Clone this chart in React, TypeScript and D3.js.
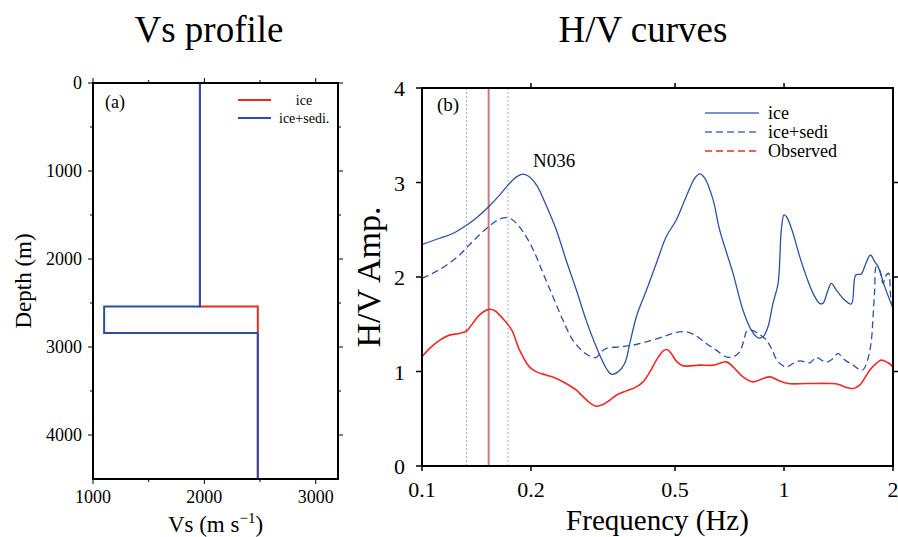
import React from "react";
import * as d3 from "d3";

// panel (a) Vs profile
const vsTicks = [1000, 2000, 3000];
const vsMinor = [1500, 2500];
const depthTicks = [0, 1000, 2000, 3000, 4000];
const depthMinor = [500, 1500, 2500, 3500];
const iceLayerTop = [0, 2540];
const iceLayerVs = [1960, 2480];
const sediLayerTop = [0, 2540, 2840];
const sediLayerVs = [1960, 1100, 2480];
const maxDepth = 4500;

// panel (b) H/V curves
const freqTicks = [0.1, 0.2, 0.5, 1, 2];
const ampTicks = [0, 1, 2, 3, 4];
const markerFreqs = [0.1327, 0.1728];
const peakFreq = 0.1528;

const iceFreq = [0.1, 0.112, 0.122, 0.133, 0.141, 0.153, 0.164, 0.173, 0.182, 0.19, 0.196, 0.207, 0.221, 0.235, 0.25, 0.267, 0.284, 0.303, 0.323, 0.333, 0.348, 0.363, 0.375, 0.391, 0.417, 0.444, 0.473, 0.504, 0.537, 0.567, 0.585, 0.604, 0.637, 0.664, 0.723, 0.77, 0.812, 0.848, 0.875, 0.903, 0.932, 0.963, 0.983, 1.0, 1.015, 1.048, 1.105, 1.153, 1.203, 1.254, 1.281, 1.323, 1.351, 1.395, 1.471, 1.535, 1.578, 1.635, 1.67, 1.732, 1.78, 1.819, 1.897, 2.0];
const iceAmp = [2.346, 2.41, 2.463, 2.551, 2.622, 2.746, 2.869, 2.975, 3.057, 3.088, 3.071, 2.975, 2.746, 2.498, 2.18, 1.862, 1.544, 1.261, 1.032, 0.972, 0.996, 1.085, 1.297, 1.58, 1.862, 2.145, 2.428, 2.604, 2.852, 3.046, 3.092, 3.046, 2.816, 2.498, 2.039, 1.65, 1.438, 1.357, 1.367, 1.473, 1.721, 1.933, 2.498, 2.657, 2.64, 2.516, 2.216, 2.004, 1.827, 1.721, 1.721, 1.862, 1.933, 1.862, 1.756, 1.714, 2.021, 2.032, 2.11, 2.233, 2.163, 2.11, 1.898, 1.668];

const sediFreq = [0.1, 0.107, 0.117, 0.127, 0.135, 0.144, 0.153, 0.162, 0.171, 0.178, 0.19, 0.203, 0.216, 0.23, 0.245, 0.261, 0.279, 0.294, 0.303, 0.313, 0.323, 0.352, 0.383, 0.417, 0.463, 0.494, 0.515, 0.537, 0.567, 0.61, 0.65, 0.693, 0.723, 0.754, 0.779, 0.787, 0.812, 0.848, 0.894, 0.923, 0.963, 1.015, 1.059, 1.105, 1.177, 1.228, 1.295, 1.323, 1.366, 1.41, 1.455, 1.551, 1.646, 1.706, 1.743, 1.762, 1.78, 1.799, 1.838, 1.877, 1.917, 1.946, 1.971, 2.0];
const sediAmp = [1.986, 2.039, 2.127, 2.233, 2.339, 2.445, 2.534, 2.604, 2.629, 2.604, 2.481, 2.286, 2.039, 1.792, 1.544, 1.332, 1.208, 1.155, 1.148, 1.208, 1.244, 1.261, 1.279, 1.314, 1.367, 1.403, 1.42, 1.42, 1.385, 1.297, 1.226, 1.155, 1.155, 1.208, 1.367, 1.42, 1.438, 1.403, 1.332, 1.244, 1.102, 1.049, 1.085, 1.113, 1.092, 1.148, 1.102, 1.102, 1.138, 1.191, 1.138, 1.067, 1.014, 1.138, 1.332, 1.58, 1.862, 2.11, 2.074, 1.933, 2.021, 2.039, 1.792, 1.686];

const obsFreq = [0.1, 0.105, 0.112, 0.119, 0.127, 0.133, 0.138, 0.144, 0.153, 0.159, 0.167, 0.177, 0.186, 0.198, 0.207, 0.221, 0.235, 0.25, 0.267, 0.279, 0.291, 0.303, 0.316, 0.33, 0.344, 0.367, 0.391, 0.408, 0.426, 0.444, 0.463, 0.475, 0.488, 0.504, 0.521, 0.537, 0.585, 0.637, 0.693, 0.723, 0.77, 0.821, 0.866, 0.913, 0.963, 1.026, 1.153, 1.337, 1.41, 1.471, 1.551, 1.618, 1.725, 1.799, 1.857, 1.938, 2.0];
const obsAmp = [1.155, 1.244, 1.332, 1.385, 1.403, 1.431, 1.509, 1.597, 1.657, 1.643, 1.562, 1.438, 1.226, 1.049, 0.996, 0.961, 0.926, 0.873, 0.802, 0.731, 0.668, 0.633, 0.65, 0.696, 0.749, 0.795, 0.837, 0.89, 0.996, 1.12, 1.216, 1.233, 1.191, 1.11, 1.067, 1.057, 1.067, 1.067, 1.102, 1.049, 0.943, 0.89, 0.919, 0.943, 0.908, 0.873, 0.873, 0.873, 0.866, 0.837, 0.82, 0.855, 1.014, 1.085, 1.12, 1.092, 1.049];

const FONT = "'Liberation Serif', 'Times New Roman', serif";
const BLUE = "#2b52a3";
const RED = "#ee2a22";

const stepPoints = (tops: number[], vs: number[]) => {
    const pts: [number, number][] = [];
    tops.forEach((t, i) => {
        const bot = i + 1 < tops.length ? tops[i + 1] : maxDepth;
        pts.push([vs[i], t], [vs[i], bot]);
    });
    return pts;
};

const ProfilePanel = () => {
    const x = d3.scaleLinear().domain([1000, 3200]).range([93, 338]);
    const y = d3.scaleLinear().domain([0, maxDepth]).range([83, 479]);
    const line = d3.line<[number, number]>().x(d => x(d[0])).y(d => y(d[1]));
    const [x0, x1] = x.range();
    const [y0, y1] = y.range();

    return (
        <g fontFamily={FONT}>
            <path d={line(stepPoints(iceLayerTop, iceLayerVs)) || ""} fill="none" stroke={RED} strokeWidth={2} />
            <path d={line(stepPoints(sediLayerTop, sediLayerVs)) || ""} fill="none" stroke="#2a4ea8" strokeWidth={2} />
            <rect x={x0} y={y0} width={x1 - x0} height={y1 - y0} fill="none" stroke="#000" strokeWidth={2} />
            {vsTicks.concat(vsMinor).map(v => {
                const len = vsTicks.includes(v) ? 5 : 3;
                return (
                    <g key={"vx" + v}>
                        <line x1={x(v)} x2={x(v)} y1={y1} y2={y1 + len} stroke="#000" />
                        <line x1={x(v)} x2={x(v)} y1={y0} y2={y0 - len} stroke="#000" />
                    </g>
                );
            })}
            {depthTicks.concat(depthMinor).map(d => {
                const len = depthTicks.includes(d) ? 5 : 3;
                return (
                    <g key={"dy" + d}>
                        <line x1={x0} x2={x0 - len} y1={y(d)} y2={y(d)} stroke="#000" />
                        <line x1={x1} x2={x1 + len} y1={y(d)} y2={y(d)} stroke="#000" />
                    </g>
                );
            })}
            {vsTicks.map(v => (
                <text key={"vl" + v} x={x(v)} y={503} fontSize={18} textAnchor="middle">{v}</text>
            ))}
            {depthTicks.map(d => (
                <text key={"dl" + d} x={82} y={y(d) + 6} fontSize={18} textAnchor="end">{d}</text>
            ))}
            <text x={105} y={108} fontSize={18}>(a)</text>
            <line x1={238} x2={271} y1={100} y2={100} stroke={RED} strokeWidth={2} />
            <text x={304} y={105} fontSize={14} textAnchor="middle">ice</text>
            <line x1={238} x2={271} y1={118} y2={118} stroke="#2a4ea8" strokeWidth={2} />
            <text x={279} y={123} fontSize={14}>ice+sedi.</text>
            <text transform={`translate(31 ${(y0 + y1) / 2}) rotate(-90)`} fontSize={23} textAnchor="middle">Depth (m)</text>
            <text x={(x0 + x1) / 2} y={532} fontSize={23} textAnchor="middle">
                Vs (m s<tspan fontSize={15} dy={-9}>−1</tspan><tspan dy={9}>)</tspan>
            </text>
            <text x={209} y={42} fontSize={37} textAnchor="middle">Vs profile</text>
        </g>
    );
};

const HVPanel = () => {
    const x = d3.scaleLog().domain([0.1, 2]).range([422, 893]);
    const y = d3.scaleLinear().domain([0, 4]).range([466, 88]);
    const [x0, x1] = x.range();
    const [y1, y0] = y.range();
    const curve = (f: number[], a: number[]) =>
        d3.line<number>().x(i => x(f[i])).y(i => y(a[i])).curve(d3.curveCatmullRom.alpha(0.5))(d3.range(f.length)) || "";

    return (
        <g fontFamily={FONT}>
            {markerFreqs.map(f => (
                <line key={f} x1={x(f)} x2={x(f)} y1={y0} y2={y1} stroke="#b0b0b0" strokeWidth={1} strokeDasharray="2,2" />
            ))}
            <line x1={x(peakFreq)} x2={x(peakFreq)} y1={y0} y2={y1} stroke="#c87c7c" strokeWidth={2} />
            <path d={curve(obsFreq, obsAmp)} fill="none" stroke={RED} strokeWidth={1.6} />
            <path d={curve(sediFreq, sediAmp)} fill="none" stroke={BLUE} strokeWidth={1.3} strokeDasharray="7,4" />
            <path d={curve(iceFreq, iceAmp)} fill="none" stroke={BLUE} strokeWidth={1.3} />
            <rect x={x0} y={y0} width={x1 - x0} height={y1 - y0} fill="none" stroke="#000" strokeWidth={2} />
            {freqTicks.map(f => (
                <g key={"fx" + f}>
                    <line x1={x(f)} x2={x(f)} y1={y1} y2={y1 + 5} stroke="#000" strokeWidth={1.5} />
                    {f > 0.1 && f < 2 && <line x1={x(f)} x2={x(f)} y1={y0} y2={y0 - 5} stroke="#000" strokeWidth={1.5} />}
                    <text x={x(f)} y={497} fontSize={22} textAnchor="middle">{f}</text>
                </g>
            ))}
            {ampTicks.map(a => (
                <g key={"ay" + a}>
                    <line x1={x0} x2={x0 - 6} y1={y(a)} y2={y(a)} stroke="#000" strokeWidth={1.5} />
                    {a > 0 && a < 4 && <line x1={x1} x2={x1 + 5} y1={y(a)} y2={y(a)} stroke="#000" strokeWidth={1.5} />}
                    <text x={405} y={y(a) + 8} fontSize={22} textAnchor="end">{a}</text>
                </g>
            ))}
            <text x={437} y={111} fontSize={19}>(b)</text>
            <text x={533} y={167} fontSize={19}>N036</text>
            <line x1={705} x2={759} y1={113} y2={113} stroke="#4a6fba" strokeWidth={1.3} />
            <text x={768} y={119} fontSize={18}>ice</text>
            <line x1={705} x2={759} y1={132} y2={132} stroke="#4a6fba" strokeWidth={1.3} strokeDasharray="7,4" />
            <text x={768} y={138} fontSize={18}>ice+sedi</text>
            <line x1={705} x2={759} y1={151} y2={151} stroke={RED} strokeWidth={1.3} strokeDasharray="7,4" />
            <text x={768} y={157} fontSize={18}>Observed</text>
            <text transform={`translate(380 ${(y0 + y1) / 2}) rotate(-90)`} fontSize={34} textAnchor="middle">H/V Amp.</text>
            <text x={(x0 + x1) / 2} y={530} fontSize={29} textAnchor="middle">Frequency (Hz)</text>
            <text x={643} y={42} fontSize={37} textAnchor="middle">H/V curves</text>
        </g>
    );
};

export default function App() {
    return (
        <svg width={898} height={537} style={{ position: "absolute", left: 0, top: 0, background: "#fff" }}>
            <rect width={898} height={537} fill="#fff" />
            <ProfilePanel />
            <HVPanel />
        </svg>
    );
}
